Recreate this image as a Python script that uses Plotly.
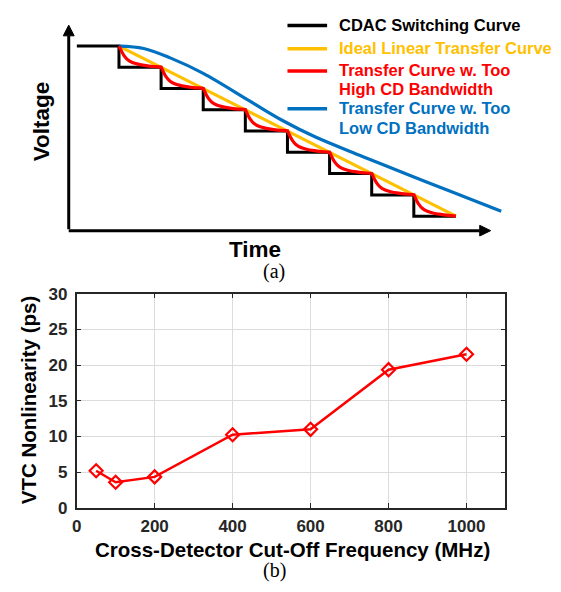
import plotly.graph_objects as go

# ---------------- (a) conceptual transfer curves ----------------
# CDAC staircase: switching instants (in units of one conversion step) and voltage levels
switch_times = [-1, 0, 1, 2, 3, 4, 5, 6, 7, 8]
cdac_levels = [8, 7, 6, 5, 4, 3, 2, 1, 0, 0]

# ideal linear transfer: straight line through the upper step corners
ideal_times = [0, 8]
ideal_levels = [8, 0]

# response shape within one step for a too-fast cross detector
# (fraction of the step period elapsed, fraction of the step height settled)
fast_step_time = [0, 0.05, 0.12, 0.2, 0.32, 0.45, 0.64, 0.82, 1.0]
fast_step_settle = [0, 0.2, 0.45, 0.63, 0.77, 0.85, 0.92, 0.965, 1.0]

# too-slow cross detector: lagging, smoothed transfer curve
slow_times = [0, 0.588, 1.216, 2.0, 3.099, 3.882, 4.666, 5.765, 6.941, 7.882, 9.075]
slow_levels = [8.0, 7.887, 7.445, 6.717, 5.42, 4.5, 3.72, 2.82, 1.89, 1.161, 0.228]

legend_items = [
    ("CDAC Switching Curve", "#000000", ["CDAC Switching Curve"]),
    ("Ideal Linear Transfer Curve", "#FFC000", ["Ideal Linear Transfer Curve"]),
    ("Transfer Curve w. Too High CD Bandwidth", "#FF0000",
     ["Transfer Curve w. Too", "High CD Bandwidth"]),
    ("Transfer Curve w. Too Low CD Bandwidth", "#0070C0",
     ["Transfer Curve w. Too", "Low CD Bandwidth"]),
]

# ---------------- (b) measured nonlinearity ----------------
cutoff_mhz = [50, 100, 200, 400, 600, 800, 1000]
vtc_nonlinearity_ps = [5.2, 3.6, 4.35, 10.25, 11.0, 19.35, 21.5]
x_ticks = [0, 200, 400, 600, 800, 1000]
y_ticks = [0, 5, 10, 15, 20, 25, 30]

W, H = 561, 592
SANS = "Liberation Sans, Arial, sans-serif"
SERIF = "Liberation Serif, Times New Roman, serif"

# pixel placement of the schematic (one time unit / one level in px)
T0_PX, T_PX = 115.0, 42.5
V0_PY, V_PY = 214.0, 21.96
TOP_PY = 280.0


def px(x):
    return x / W


def py(y):
    return 1 - y / H


def t_of(xpx):
    return (xpx - T0_PX) / T_PX


def v_of(ypx):
    return (V0_PY - ypx) / V_PY


# build the fast-detector curve from the step profile
fast_t, fast_v = [], []
n_steps = len(cdac_levels) - 2
for k in range(n_steps):
    start_level = ideal_levels[0] - k
    for j, (ft, fv) in enumerate(zip(fast_step_time, fast_step_settle)):
        if k > 0 and j == 0:
            continue
        fast_t.append(switch_times[k + 1] + ft)
        fast_v.append(start_level - fv)

fig = go.Figure()

fig.add_trace(go.Scatter(
    x=switch_times, y=cdac_levels, mode="lines", line_shape="hv",
    line=dict(color="#000000", width=3), xaxis="x", yaxis="y",
    name=legend_items[0][0], showlegend=False, hoverinfo="skip"))
fig.add_trace(go.Scatter(
    x=ideal_times, y=ideal_levels, mode="lines",
    line=dict(color="#FFC000", width=3.2), xaxis="x", yaxis="y",
    name=legend_items[1][0], showlegend=False, hoverinfo="skip"))
fig.add_trace(go.Scatter(
    x=slow_times, y=slow_levels, mode="lines", line_shape="spline",
    line=dict(color="#0070C0", width=3.2, smoothing=1), xaxis="x", yaxis="y",
    name=legend_items[3][0], showlegend=False, hoverinfo="skip"))
fig.add_trace(go.Scatter(
    x=fast_t, y=fast_v, mode="lines", line_shape="spline",
    line=dict(color="#FF0000", width=3.2, smoothing=0.7), xaxis="x", yaxis="y",
    name=legend_items[2][0], showlegend=False, hoverinfo="skip"))

fig.add_trace(go.Scatter(
    x=cutoff_mhz, y=vtc_nonlinearity_ps, mode="lines+markers",
    line=dict(color="#FF0000", width=2.5),
    marker=dict(symbol="diamond-open", size=10, color="#FF0000",
                line=dict(width=2.2, color="#FF0000")),
    xaxis="x2", yaxis="y2", showlegend=False, name="VTC nonlinearity"))

shapes = []
annotations = []

# schematic axes with arrow heads
ax_t, ax_v = t_of(64.3), v_of(229.0)
tip_t, tip_v = t_of(490.0), v_of(16.7)
head_len_t, head_half_v = 11 / T_PX, 5.5 / V_PY
head_len_v, head_half_t = 11 / V_PY, 5.5 / T_PX
shapes.append(dict(type="line", xref="x", yref="y", x0=ax_t, y0=ax_v,
                   x1=tip_t - head_len_t, y1=ax_v, line=dict(color="black", width=3)))
shapes.append(dict(type="line", xref="x", yref="y", x0=ax_t, y0=ax_v + 1.5 / V_PY,
                   x1=ax_t, y1=tip_v - head_len_v, line=dict(color="black", width=3)))
shapes.append(dict(type="path", xref="x", yref="y", fillcolor="black",
                   line=dict(color="black", width=1),
                   path=f"M {tip_t},{ax_v} L {tip_t - head_len_t},{ax_v + head_half_v} "
                        f"L {tip_t - head_len_t},{ax_v - head_half_v} Z"))
shapes.append(dict(type="path", xref="x", yref="y", fillcolor="black",
                   line=dict(color="black", width=1),
                   path=f"M {ax_t},{tip_v} L {ax_t - head_half_t},{tip_v - head_len_v} "
                        f"L {ax_t + head_half_t},{tip_v - head_len_v} Z"))


def label(text, xp, yp, size, color="black", family=SANS, angle=0, xanchor="center"):
    annotations.append(dict(text=text, x=px(xp), y=py(yp), xref="paper", yref="paper",
                            xanchor=xanchor, yanchor="middle", showarrow=False,
                            textangle=angle, borderpad=0,
                            font=dict(family=family, size=size, color=color)))


label("<b>Voltage</b>", 37.7, 115.7, 22.5, angle=-90)
label("<b>Time</b>", 252.7, 248.3, 22.5)

# legend of the schematic
row_y = [[16.5], [40.5], [63.5, 83.0], [102.5, 122.5]]
for (name, color, lines), ys in zip(legend_items, row_y):
    shapes.append(dict(type="line", xref="paper", yref="paper", x0=px(285), x1=px(325),
                       y0=py(ys[0] + 0.5), y1=py(ys[0] + 0.5),
                       line=dict(color=color, width=3.5)))
    for txt, yy in zip(lines, ys):
        label(f"<b>{txt}</b>", 336, yy, 16.5, color=color, xanchor="left")

# panel labels and axis titles of (b)
label("(a)", 271, 271, 20, family=SERIF)
label("(b)", 272, 580, 20, family=SERIF)
label("<b>Cross-Detector Cut-Off Frequency (MHz)</b>", 290, 558, 20.5)
label("<b>VTC Nonlinearity (ps)</b>", 23.4, 404, 20.5, angle=-90)

axis_common = dict(showgrid=True, gridcolor="#DCDCDC", gridwidth=1, zeroline=False,
                   showline=True, linecolor="#262626", linewidth=1.5, mirror="ticks",
                   ticks="inside", ticklen=5, tickcolor="#262626", tickwidth=1.2,
                   tickfont=dict(family=SANS, size=17, color="#262626", weight="bold"))

fig.update_layout(
    width=W, height=H,
    margin=dict(l=0, r=0, t=0, b=0),
    paper_bgcolor="white", plot_bgcolor="white",
    xaxis=dict(domain=[0, 1], range=[t_of(0), t_of(W)], visible=False, fixedrange=True),
    yaxis=dict(domain=[1 - TOP_PY / H, 1], range=[v_of(TOP_PY), v_of(0)], visible=False,
               fixedrange=True),
    xaxis2=dict(domain=[px(72.3), px(505)], range=[0, 1100], tickvals=x_ticks,
                anchor="y2", ticklabelstandoff=2, **axis_common),
    yaxis2=dict(domain=[py(515.5), py(294)], range=[0, 30], tickvals=y_ticks,
                anchor="x2", ticklabelstandoff=4, **axis_common),
    shapes=shapes,
    annotations=annotations,
)

fig.write_html("out.html")
